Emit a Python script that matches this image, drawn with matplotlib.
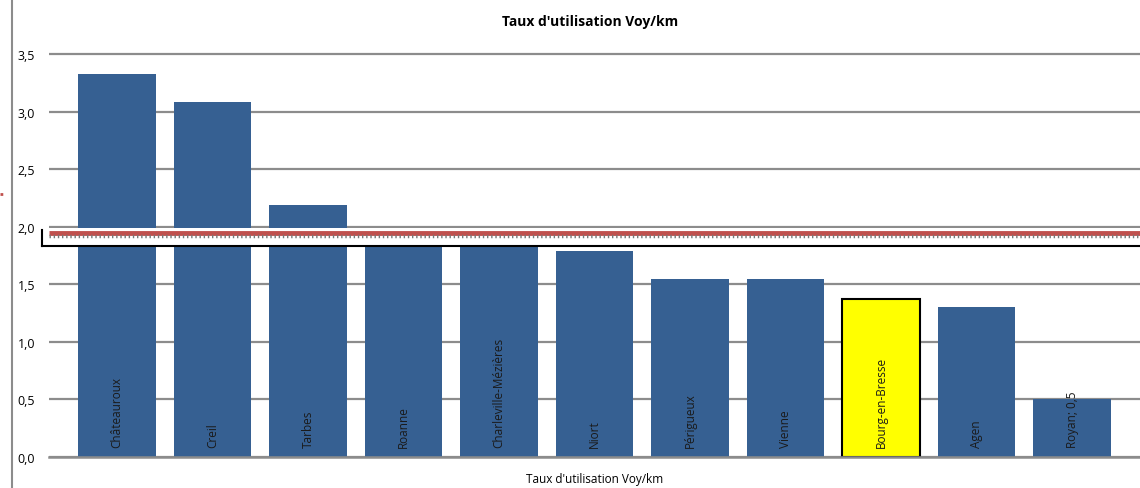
import matplotlib.pyplot as plt
from matplotlib.lines import Line2D
from matplotlib.patches import Rectangle

# données
villes = ['Châteauroux', 'Creil', 'Tarbes', 'Roanne', 'Charleville-Mézières', 'Niort',
          'Périgueux', 'Vienne', 'Bourg-en-Bresse', 'Agen', 'Royan']
taux = [3.33, 3.08, 2.19, 1.95, 1.90, 1.79, 1.55, 1.55, 1.37, 1.30, 0.50]
etiquettes = villes[:-1] + ['Royan; 0,5']
yticks = [0.0, 0.5, 1.0, 1.5, 2.0, 2.5, 3.0, 3.5]

plt.rcParams['font.family'] = ['Open Sans', 'DejaVu Sans']

fig = plt.figure(figsize=(11.4, 4.89), dpi=100)
ax = fig.add_axes([49 / 1140, 1 - 458 / 489, 1 - 49 / 1140, (458 - 40) / 489])

x = list(range(len(villes)))
couleurs = ['#366092'] * len(villes)
couleurs[villes.index('Bourg-en-Bresse')] = '#ffff00'
bars = ax.bar(x, taux, width=0.81, color=couleurs, zorder=2)
bars[villes.index('Bourg-en-Bresse')].set_edgecolor('black')
bars[villes.index('Bourg-en-Bresse')].set_linewidth(1.5)

for xi, lab in zip(x, etiquettes):
    ax.text(xi, 0.085, lab, rotation=90, ha='center', va='bottom', fontsize=8.5,
            color='#1a1a1a', zorder=3)

ax.set_xlim(-0.71, 10.71)
ax.set_ylim(0, 3.63)
ax.set_yticks(yticks)
ax.set_yticklabels([f'{v:.1f}'.replace('.', ',') for v in yticks], fontsize=9)
ax.set_xticks([])
ax.tick_params(axis='y', length=0, pad=10)
ax.yaxis.grid(True, color='#8c8c8c', linewidth=1.6, zorder=1)
for s in ['top', 'right', 'left']:
    ax.spines[s].set_visible(False)
ax.spines['bottom'].set_color('#8c8c8c')
ax.spines['bottom'].set_linewidth(1.8)

# bande de coupure
x0 = -0.78
ax.add_patch(Rectangle((x0, 1.83), 10.71 - x0, 1.989 - 1.83, facecolor='white',
                       edgecolor='none', zorder=4, clip_on=False))
ax.plot([-0.71, 10.71], [1.945, 1.945], color='#c0504d', linewidth=3.5, zorder=5,
        solid_capstyle='butt', clip_on=False)
ax.plot([-0.71, 10.71], [1.915, 1.915], color='#777777', linewidth=2.5,
        linestyle=(0, (0.4, 0.8)), zorder=5, clip_on=False)
ax.plot([x0, 10.71], [1.83, 1.83], color='black', linewidth=1.5, zorder=5, clip_on=False)
ax.plot([x0, x0], [1.83, 1.975], color='black', linewidth=1.5, zorder=5, clip_on=False)

fig.text(590 / 1140, 1 - 22 / 489, "Taux d'utilisation Voy/km", ha='center', va='center',
         fontsize=10, fontweight='bold', family=['Open Sans', 'DejaVu Sans'])
fig.text(595 / 1140, 1 - 480 / 489, "Taux d'utilisation Voy/km", ha='center', va='center',
         fontsize=8.5)
fig.add_artist(Line2D([12 / 1140, 12 / 1140], [0, 1], color='#8c8c8c', linewidth=1.5))
fig.add_artist(Line2D([0, 4 / 1140], [1 - 195 / 489, 1 - 195 / 489], color='#c0504d',
                      linewidth=2, linestyle=':'))

fig.savefig('out.png', dpi=100)
